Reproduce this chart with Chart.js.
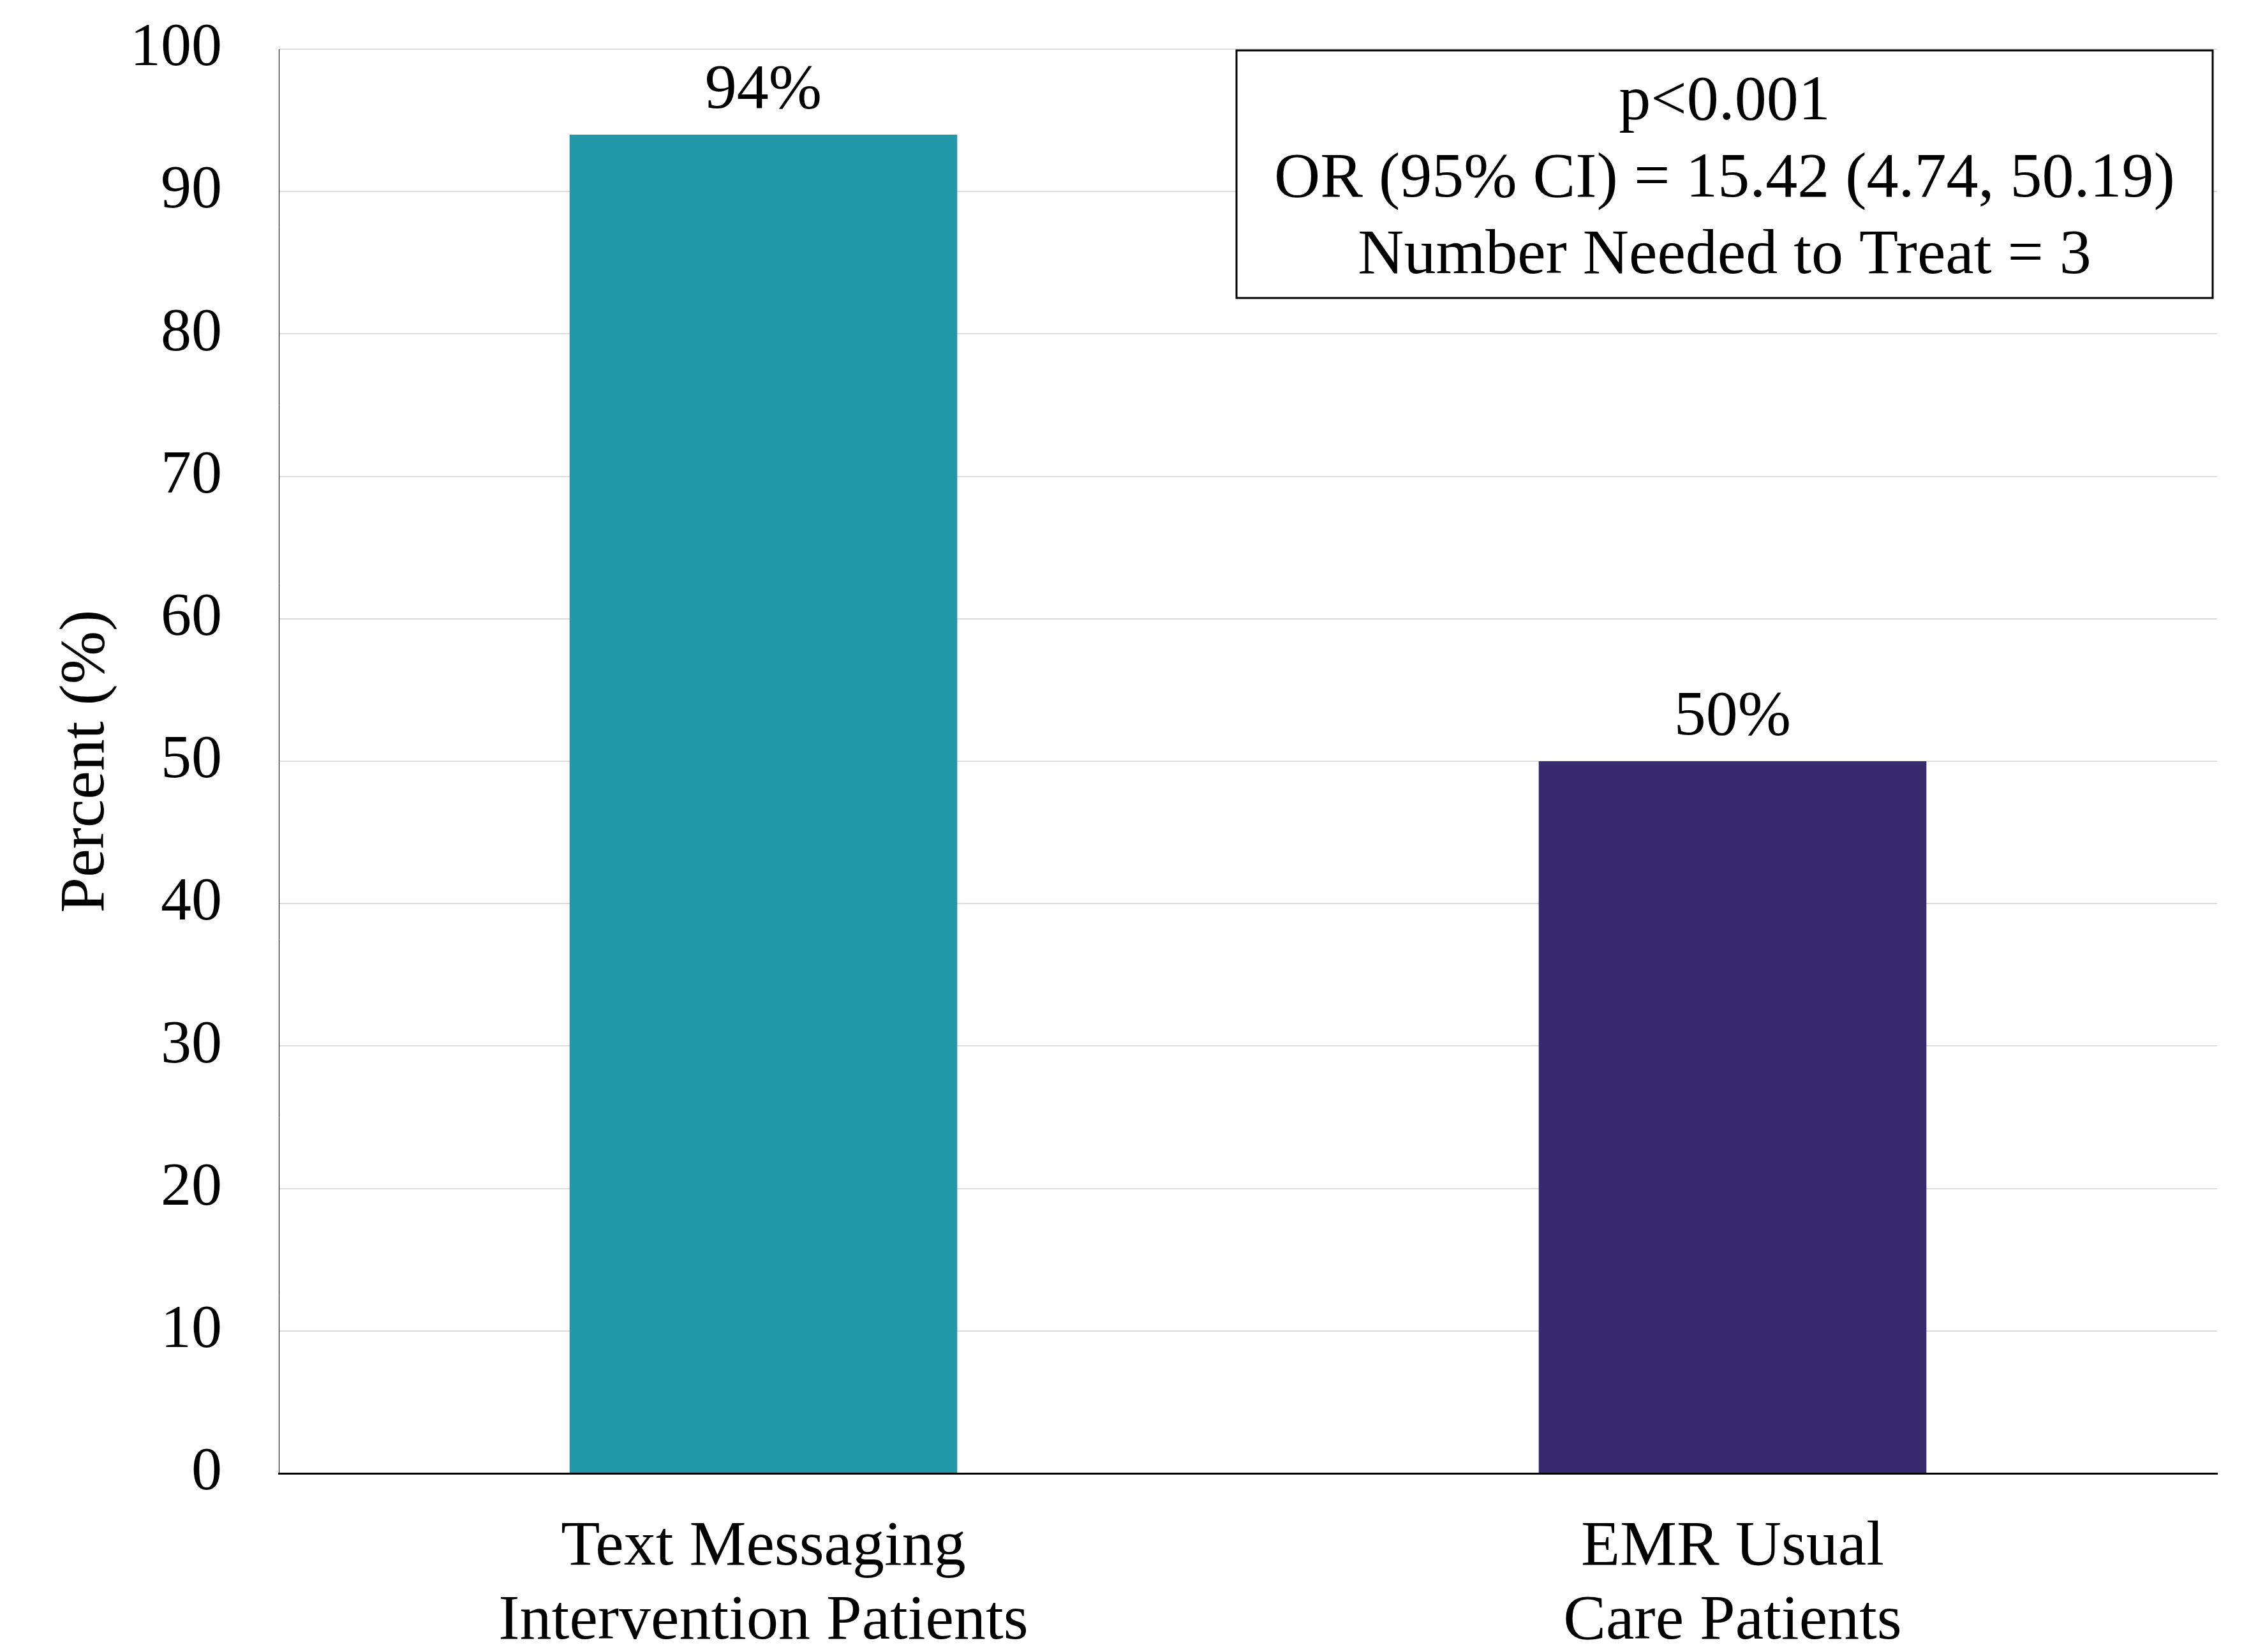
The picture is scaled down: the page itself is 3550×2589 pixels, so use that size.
<!DOCTYPE html>
<html>
<head>
<meta charset="utf-8">
<script src="https://cdn.jsdelivr.net/npm/chart.js@4/dist/chart.umd.min.js"></script>
<style>
  html, body { margin: 0; padding: 0; background: #ffffff; }
  #wrap { width: 3550px; height: 2589px; position: relative; }
</style>
</head>
<body>
<div id="wrap"><canvas id="c" width="3550" height="2589"></canvas></div>
<script>
// ---- data ----
const categories = [["Text Messaging", "Intervention Patients"], ["EMR Usual", "Care Patients"]];
const percentValues = [94, 50];
const barColors = ["#2199A8", "#372A6E"];
const yTicks = [0, 10, 20, 30, 40, 50, 60, 70, 80, 90, 100];
const statLines = ["p<0.001", "OR (95% CI) = 15.42 (4.74, 50.19)", "Number Needed to Treat = 3"];
const yTitle = "Percent (%)";

const SERIF = "'Liberation Serif', 'Times New Roman', 'DejaVu Serif', serif";

const valueLabels = {
  id: 'valueLabels',
  afterDatasetsDraw(chart) {
    const ctx = chart.ctx;
    const meta = chart.getDatasetMeta(0);
    ctx.save();
    ctx.font = "100px " + SERIF;
    ctx.fillStyle = "#000";
    ctx.textAlign = "center";
    ctx.textBaseline = "alphabetic";
    meta.data.forEach((bar, i) => {
      ctx.fillText(percentValues[i] + "%", bar.x, bar.y - 42);
    });
    ctx.restore();
  }
};

const statBox = {
  id: 'statBox',
  afterDraw(chart) {
    const ctx = chart.ctx;
    const a = chart.chartArea;
    const right = a.right - 7;
    const left = right - 1530;
    const top = a.top + 2;
    const h = 388;
    ctx.save();
    ctx.fillStyle = "#ffffff";
    ctx.fillRect(left, top, right - left, h);
    ctx.strokeStyle = "#000";
    ctx.lineWidth = 3;
    ctx.strokeRect(left, top, right - left, h);
    ctx.font = "100px " + SERIF;
    ctx.fillStyle = "#000";
    ctx.textAlign = "center";
    ctx.textBaseline = "alphabetic";
    const cx = (left + right) / 2;
    const offs = [108, 229, 349];
    statLines.forEach((t, i) => ctx.fillText(t, cx, top + offs[i]));
    ctx.restore();
  }
};

new Chart(document.getElementById('c'), {
  type: 'bar',
  data: {
    labels: categories,
    datasets: [{
      data: percentValues,
      backgroundColor: barColors,
      borderWidth: 0,
      barPercentage: 0.4,
      categoryPercentage: 1.0
    }]
  },
  options: {
    responsive: false,
    animation: false,
    devicePixelRatio: 1,
    layout: { padding: { left: 20, right: 75, top: 77, bottom: 0 } },
    plugins: { legend: { display: false }, tooltip: { enabled: false } },
    scales: {
      x: {
        grid: { display: false, drawTicks: false },
        border: { display: true, color: "#000", width: 3 },
        ticks: {
          color: "#000",
          font: { family: SERIF, size: 100, lineHeight: 1.16 },
          padding: 59,
          maxRotation: 0,
          autoSkip: false
        },
        afterFit(scale) { scale.height = 280; }
      },
      y: {
        min: 0, max: 100,
        afterBuildTicks(scale) { scale.ticks = yTicks.map(v => ({ value: v })); },
        grid: { color: "#dcdcdc", lineWidth: 2, drawTicks: true, tickLength: 89, tickColor: "rgba(0,0,0,0)" },
        border: { display: true, color: "#000", width: 1 },
        ticks: {
          color: "#000",
          font: { family: SERIF, size: 96 },
          padding: 0
        },
        title: {
          display: true,
          text: yTitle,
          color: "#000",
          font: { family: SERIF, size: 100, lineHeight: 1.2 },
          padding: { top: 56, bottom: 0 }
        },
        afterFit(scale) { scale.width = 417; }
      }
    }
  },
  plugins: [valueLabels, statBox]
});
</script>
</body>
</html>
